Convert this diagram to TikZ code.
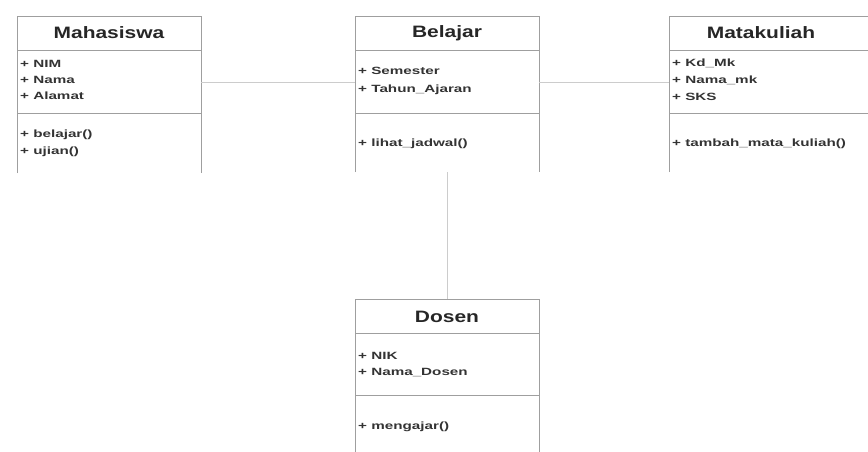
\documentclass[tikz,border=0pt]{standalone}
\usepackage{fontspec}
\setmainfont{Liberation Sans}
\newfontfamily\headfont[FakeStretch=1.27]{Liberation Sans}
\newfontfamily\rowfont[FakeStretch=1.45]{Liberation Sans}
\usetikzlibrary{positioning}

\tikzset{
  boxline/.style={draw=gray!75, line width=0.9pt},
  link/.style={draw=gray!40, line width=0.9pt},
  classtitle/.style={font=\headfont\bfseries\fontsize{16.5}{18}\selectfont, text=black!85},
  row/.style={anchor=mid west, inner sep=0pt, font=\rowfont\bfseries\fontsize{10.5}{12}\selectfont, text=black!80},
}

\begin{document}
\begin{tikzpicture}[x=1pt, y=-1pt]
\useasboundingbox (0,0) rectangle (868,452);
\clip (0,0) rectangle (868,452);
% Mahasiswa
\begin{scope}[shift={(17,16)}]
\draw[boxline] (0,157) -- (0,0) -- (184,0) -- (184,157);
\draw[boxline] (0,34) -- (184,34);
\draw[boxline] (0,97) -- (184,97);
\node[classtitle] (mhs title) at (92,17) {Mahasiswa};
\node[row] (mhs nim) at (3,49) {+ NIM};
\node[row] (mhs nama) at (3,65) {+ Nama};
\node[row] (mhs alamat) at (3,81) {+ Alamat};
\node[row] (mhs belajar) at (3,119) {+ belajar()};
\node[row] (mhs ujian) at (3,136) {+ ujian()};
\coordinate (mhs east) at (184,66);
\end{scope}
% Belajar
\begin{scope}[shift={(355,16)}]
\draw[boxline] (0,156) -- (0,0) -- (184,0) -- (184,156);
\draw[boxline] (0,34) -- (184,34);
\draw[boxline] (0,97) -- (184,97);
\node[classtitle] (blj title) at (92,17) {Belajar};
\node[row] (blj smt) at (3,56) {+ Semester};
\node[row] (blj tahun) at (3,74) {+ Tahun\_Ajaran};
\node[row] (blj jadwal) at (3,128) {+ lihat\_jadwal()};
\coordinate (blj west) at (0,66);
\coordinate (blj east) at (184,66);
\coordinate (blj south) at (92,156);
\end{scope}
% Matakuliah
\begin{scope}[shift={(669,16)}]
\draw[boxline] (0,156) -- (0,0) -- (220,0);
\draw[boxline] (0,34) -- (220,34);
\draw[boxline] (0,97) -- (220,97);
\node[classtitle] (mk title) at (92,17) {Matakuliah};
\node[row] (mk kd) at (3,48) {+ Kd\_Mk};
\node[row] (mk nama) at (3,65) {+ Nama\_mk};
\node[row] (mk sks) at (3,82) {+ SKS};
\node[row] (mk tambah) at (3,128) {+ tambah\_mata\_kuliah()};
\coordinate (mk west) at (0,66);
\end{scope}
% Dosen
\begin{scope}[shift={(355,299)}]
\draw[boxline] (0,153) -- (0,0) -- (184,0) -- (184,153);
\draw[boxline] (0,34) -- (184,34);
\draw[boxline] (0,96) -- (184,96);
\node[classtitle] (dsn title) at (92,18) {Dosen};
\node[row] (dsn nik) at (3,58) {+ NIK};
\node[row] (dsn nama) at (3,74) {+ Nama\_Dosen};
\node[row] (dsn ajar) at (3,128) {+ mengajar()};
\coordinate (dsn north) at (92,0);
\end{scope}
% relations
\draw[link] (mhs east) -- (blj west);
\draw[link] (blj east) -- (mk west);
\draw[link] (blj south) -- (dsn north);
\end{tikzpicture}
\end{document}
